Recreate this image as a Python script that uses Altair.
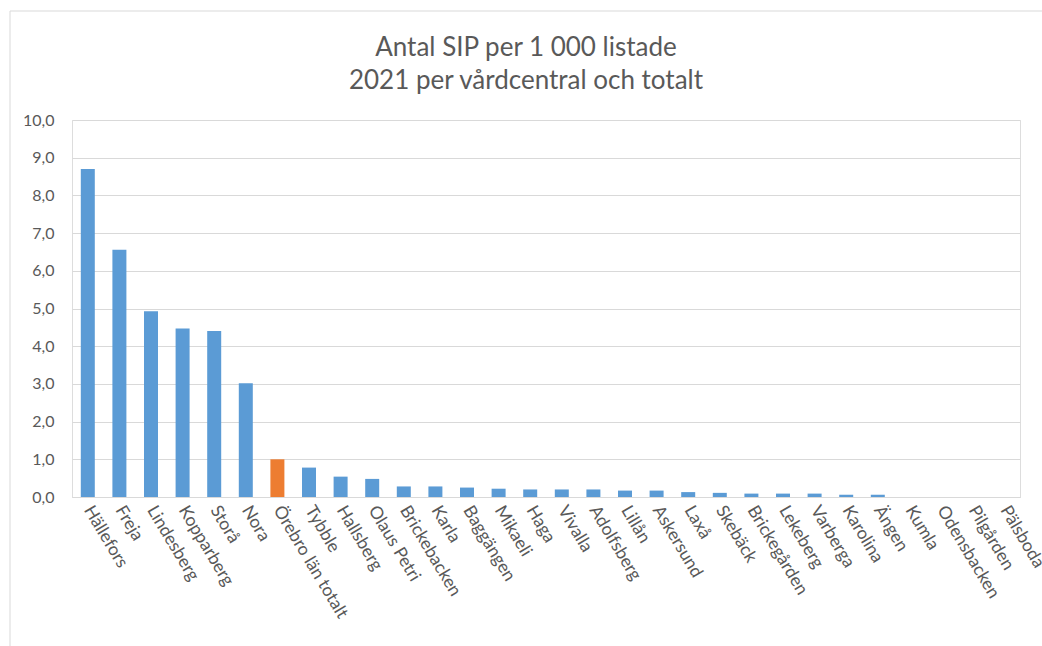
import altair as alt
import pandas as pd

# Care centres, sorted by rate, with the county total highlighted
centres = [
    "Hällefors", "Freja", "Lindesberg", "Kopparberg", "Storå", "Nora",
    "Örebro län totalt", "Tybble", "Hallsberg", "Olaus Petri", "Brickebacken",
    "Karla", "Baggängen", "Mikaeli", "Haga", "Vivalla", "Adolfsberg", "Lillån",
    "Askersund", "Laxå", "Skebäck", "Brickegården", "Lekeberg", "Varberga",
    "Karolina", "Ängen", "Kumla", "Odensbacken", "Pilgården", "Pälsboda",
]
sip_per_1000 = [
    8.70, 6.56, 4.93, 4.47, 4.40, 3.02,
    1.00, 0.78, 0.54, 0.48, 0.28,
    0.28, 0.25, 0.22, 0.20, 0.20, 0.20, 0.17,
    0.17, 0.13, 0.11, 0.09, 0.09, 0.09,
    0.06, 0.06, 0.0, 0.0, 0.0, 0.0,
]
total_label = "Örebro län totalt"
title_lines = ["Antal SIP per 1 000 listade", "2021 per vårdcentral och totalt"]

df = pd.DataFrame({"centre": centres, "value": sip_per_1000})
df["kind"] = ["total" if c == total_label else "centre" for c in centres]

TEXT = "#595959"
FONT = "Lato"
one_row = alt.Data(values=[{}])

bars = alt.Chart(df).mark_bar(width=14).encode(
    x=alt.X(
        "centre:N",
        sort=centres,
        title=None,
        axis=alt.Axis(
            labelAngle=59,
            labelAlign="left",
            labelBaseline="middle",
            labelPadding=10,
            ticks=False,
            domainColor="#D9D9D9",
            domainWidth=1,
            labelFontSize=17.5,
            labelColor=TEXT,
            labelFont=FONT,
        ),
    ),
    y=alt.Y(
        "value:Q",
        title=None,
        scale=alt.Scale(domain=[0, 10], nice=False),
        axis=alt.Axis(
            values=list(range(0, 11)),
            labelExpr="replace(format(datum.value, '.1f'), '.', ',')",
            ticks=False,
            domain=False,
            gridColor="#D9D9D9",
            gridWidth=1,
            labelPadding=18,
            labelFontSize=16,
            labelColor=TEXT,
            labelFont=FONT,
        ),
    ),
    color=alt.Color(
        "kind:N",
        scale=alt.Scale(domain=["centre", "total"], range=["#5B9BD5", "#ED7D31"]),
        legend=None,
    ),
)

# Light frame around the whole chart area
frame = alt.Chart(one_row).mark_rect(
    fill="transparent", stroke="#D9D9D9", strokeWidth=1
).encode(
    x=alt.value(-62), x2=alt.value(1000),
    y=alt.value(-109), y2=alt.value(540),
)

# Two-line chart heading
heading_1 = alt.Chart(one_row).mark_text(
    fontSize=26, font=FONT, color=TEXT, align="center", baseline="alphabetic"
).encode(x=alt.value(454), y=alt.value(-64), text=alt.value(title_lines[0]))
heading_2 = alt.Chart(one_row).mark_text(
    fontSize=26, font=FONT, color=TEXT, align="center", baseline="alphabetic"
).encode(x=alt.value(454), y=alt.value(-31), text=alt.value(title_lines[1]))

chart = alt.layer(frame, bars, heading_1, heading_2).properties(
    width=948,
    height=377,
    autosize=alt.AutoSizeParams(type="none"),
    padding={"left": 72, "top": 120, "right": 22, "bottom": 149},
).configure_view(stroke=None, clip=False).configure(background="white")

chart.save("out.html", embed_options={"renderer": "svg", "actions": False})
